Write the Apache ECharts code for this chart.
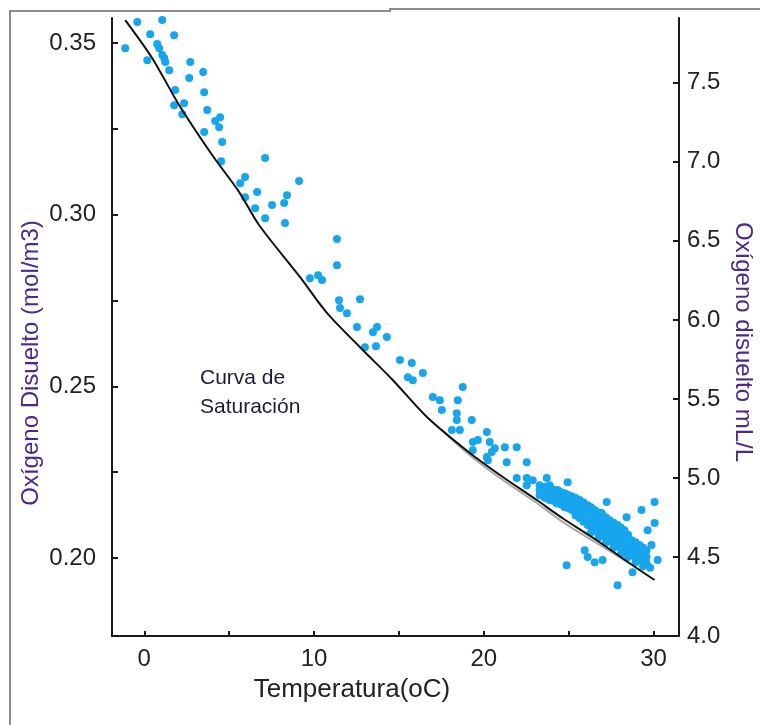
<!DOCTYPE html>
<html>
<head>
<meta charset="utf-8">
<script src="https://cdn.jsdelivr.net/npm/echarts@6/dist/echarts.min.js"></script>
<style>
html,body{margin:0;padding:0;background:#fff;}
#chart{width:760px;height:725px;}
</style>
</head>
<body>
<div id="chart"></div>
<script>
// ---- data (Temperature °C, dissolved oxygen mol/m3) ----
const satCurve = [[-1.12,0.3567],[0.47,0.3456],[2.06,0.3319],[4.0,0.3174],[5.59,0.3066],[6.76,0.2970],[9.18,0.2818],[10.76,0.2714],[12.71,0.2614],[14.65,0.2518],[16.65,0.2411],[19.18,0.2306],[21.12,0.2236],[23.12,0.2169],[24.65,0.2116],[26.65,0.2052],[28.59,0.1985],[30.06,0.1936]];
const satCurveAlt = [[17.5,0.2374],[19.2,0.2299],[21.1,0.2228],[23.1,0.2161],[24.6,0.2107],[26.0,0.2063],[27.5,0.2018],[28.6,0.1984]];
const obsCold = [[-0.41,0.3561],[1.06,0.3567],[-1.12,0.3485],[0.35,0.3526],[1.76,0.3523],[0.76,0.3497],[0.88,0.3485],[0.18,0.3450],[1.18,0.3456],[1.24,0.3445],[1.06,0.3465],[1.47,0.3421],[2.71,0.3445],[2.65,0.3398],[3.47,0.3416],[1.82,0.3363],[3.53,0.3357],[1.76,0.3319],[2.35,0.3325],[2.24,0.3293],[3.71,0.3305],[4.47,0.3284],[4.18,0.3273],[4.41,0.3255],[3.53,0.3241],[4.59,0.3212],[4.53,0.3156],[7.12,0.3165],[5.94,0.3110],[5.65,0.3092],[9.12,0.3098],[6.65,0.3066],[5.94,0.3051],[8.41,0.3057],[6.53,0.3019],[7.53,0.3028],[8.24,0.3034],[7.12,0.2990],[8.29,0.2976]];
const obsMid = [[11.35,0.2929],[11.35,0.2853],[9.76,0.2815],[10.24,0.2824],[10.47,0.2810],[11.47,0.2751],[12.71,0.2754],[11.53,0.2728],[11.94,0.2713],[12.53,0.2673],[13.71,0.2673],[13.47,0.2658],[14.29,0.2644],[13.0,0.2614],[13.65,0.2617],[15.06,0.2577],[15.76,0.2568],[15.53,0.2527],[15.82,0.2518],[16.41,0.2539],[17.0,0.2469],[17.41,0.2460],[18.47,0.2460],[18.76,0.2498],[18.41,0.2422],[17.53,0.2431],[18.41,0.2402],[19.29,0.2402],[18.12,0.2373],[18.59,0.2373],[20.18,0.2367],[19.35,0.2338],[19.65,0.2344],[20.35,0.2338],[20.65,0.2320],[21.24,0.2323],[21.94,0.2323],[19.35,0.2314],[20.18,0.2294],[20.47,0.2309],[20.24,0.2285],[21.35,0.2279],[22.53,0.2279],[21.94,0.2233],[22.53,0.2233],[22.53,0.2212],[22.88,0.2227],[23.71,0.2233],[23.59,0.2207],[24.06,0.2189],[23.71,0.2175],[24.29,0.2160]];
const obsWarmScatter = [[24.94,0.2221],[27.24,0.2163],[30.06,0.2163],[29.29,0.2140],[28.41,0.2119],[30.06,0.2102],[26.94,0.2131],[29.65,0.2081],[29.88,0.2038],[30.24,0.1994],[25.94,0.2023],[26.12,0.2003],[26.53,0.1988],[27.0,0.1994],[24.88,0.1979],[28.76,0.1959],[27.88,0.1921],[29.0,0.2014]];
const obsWarmDense = [[23.29,0.2212],[23.29,0.2198],[23.29,0.2183],[23.88,0.2212],[23.88,0.2192],[23.88,0.2169],[24.35,0.2198],[24.35,0.2177],[24.35,0.2160],[24.76,0.2189],[24.76,0.2169],[24.76,0.2148],[25.18,0.2180],[25.18,0.2160],[25.18,0.2140],[25.65,0.2169],[25.65,0.2148],[25.65,0.2131],[25.65,0.2116],[26.12,0.2154],[26.12,0.2134],[26.12,0.2110],[26.12,0.2096],[26.53,0.2140],[26.53,0.2119],[26.53,0.2099],[26.53,0.2081],[27.0,0.2125],[27.0,0.2105],[27.0,0.2081],[27.0,0.2067],[27.41,0.2110],[27.41,0.2087],[27.41,0.2067],[27.41,0.2049],[27.88,0.2096],[27.88,0.2076],[27.88,0.2052],[27.88,0.2035],[28.29,0.2081],[28.29,0.2058],[28.29,0.2038],[28.29,0.2020],[28.71,0.2052],[28.71,0.2032],[28.71,0.2009],[29.18,0.2038],[29.18,0.2017],[29.18,0.1994],[29.59,0.2023],[29.59,0.2003],[29.59,0.1985]];
const obsWarmDense2 = [[23.59,0.2205],[23.59,0.2190],[23.59,0.2176],[24.06,0.2200],[24.06,0.2184],[24.06,0.2168],[24.56,0.2192],[24.56,0.2174],[24.56,0.2156],[24.97,0.2184],[24.97,0.2164],[24.97,0.2146],[25.41,0.2175],[25.41,0.2155],[25.41,0.2136],[25.41,0.2124],[25.88,0.2162],[25.88,0.2142],[25.88,0.2122],[25.88,0.2106],[26.32,0.2148],[26.32,0.2128],[26.32,0.2106],[26.32,0.2090],[26.76,0.2133],[26.76,0.2112],[26.76,0.2090],[26.76,0.2074],[27.2,0.2118],[27.2,0.2096],[27.2,0.2075],[27.2,0.2058],[27.65,0.2103],[27.65,0.2082],[27.65,0.2060],[27.65,0.2043],[28.08,0.2088],[28.08,0.2066],[28.08,0.2045],[28.08,0.2028],[28.5,0.2068],[28.5,0.2046],[28.5,0.2025],[28.94,0.2046],[28.94,0.2025],[28.94,0.2003],[29.38,0.2030],[29.38,0.2010],[29.38,0.1990]];
const obsWarmLow = [[27.2,0.2045],[27.65,0.2030],[28.08,0.2012],[28.5,0.2003],[28.94,0.1988],[29.38,0.1976],[29.8,0.1972],[26.76,0.2060],[26.32,0.2075]];

// ---- axes ----
const xTicks = [0,5,10,15,20,25,30];
const xLabels = [0,10,20,30];
const leftTicks = [0.20,0.225,0.25,0.275,0.30,0.325,0.35];
const leftLabels = [0.20,0.25,0.30,0.35];
const rightTicks = [4.0,4.5,5.0,5.5,6.0,6.5,7.0,7.5];

const FONT = '"Liberation Sans", Arial, sans-serif';
const chart = echarts.init(document.getElementById('chart'), null, {renderer:'canvas'});
const obsAll = obsCold.concat(obsMid, obsWarmScatter, obsWarmDense, obsWarmDense2, obsWarmLow);

chart.setOption({
  animation:false,
  backgroundColor:'#ffffff',
  grid:{left:112, top:18, right:81, bottom:89, containLabel:false},
  xAxis:{
    type:'value', min:-1.9, max:31.5,
    splitLine:{show:false},
    axisLine:{show:true, onZero:false, lineStyle:{color:'#1a1a1a', width:2}},
    axisTick:{show:true, inside:true, length:5, customValues:xTicks, lineStyle:{color:'#1a1a1a', width:2}},
    axisLabel:{customValues:xLabels, margin:11, color:'#222', fontSize:24, fontFamily:FONT, formatter:v=>String(v)}
  },
  yAxis:[{
    type:'value', min:0.1773, max:0.3573, position:'left',
    splitLine:{show:false},
    axisLine:{show:true, onZero:false, lineStyle:{color:'#1a1a1a', width:2}},
    axisTick:{show:true, inside:true, length:6, customValues:leftTicks, lineStyle:{color:'#1a1a1a', width:2}},
    axisLabel:{customValues:leftLabels, margin:16, color:'#222', fontSize:24, fontFamily:FONT, formatter:v=>v.toFixed(2)}
  },{
    type:'value', min:4.0, max:7.91, position:'right',
    splitLine:{show:false},
    axisLine:{show:true, onZero:false, lineStyle:{color:'#1a1a1a', width:2}},
    axisTick:{show:true, inside:true, length:6, customValues:rightTicks, lineStyle:{color:'#1a1a1a', width:2}},
    axisLabel:{customValues:rightTicks, margin:8, color:'#222', fontSize:24, fontFamily:FONT, formatter:v=>v.toFixed(1)}
  }],
  series:[
    {type:'scatter', yAxisIndex:0, data:obsAll, symbolSize:8, itemStyle:{color:'#17a6ee', opacity:1}, z:2},
    {type:'line', yAxisIndex:0, data:satCurveAlt, smooth:0.3, symbol:'none', lineStyle:{color:'#a8a8a8', width:2}, z:3},
    {type:'line', yAxisIndex:0, data:satCurve, smooth:0.3, symbol:'none', lineStyle:{color:'#111', width:2}, z:4}
  ],
  graphic:[
    {type:'polyline', shape:{points:[[10,725],[10,11],[390,11],[390,9],[760,9]]}, style:{stroke:'#8c8c8c', lineWidth:2, fill:null}},
    {type:'text', x:31, y:363, rotation:Math.PI/2, style:{text:'Oxígeno Disuelto (mol/m3)', font:'24px '+FONT, fill:'#4b2a8a', align:'center', verticalAlign:'middle'}},
    {type:'text', x:743, y:342, rotation:-Math.PI/2, style:{text:'Oxígeno disuelto mL/L', font:'24px '+FONT, fill:'#4b2a8a', align:'center', verticalAlign:'middle'}},
    {type:'text', x:352, y:690, style:{text:'Temperatura(oC)', font:'26px '+FONT, fill:'#222', align:'center', verticalAlign:'middle'}},
    {type:'text', x:200, y:378, style:{text:'Curva de', font:'21px '+FONT, fill:'#1c1c3a', align:'left', verticalAlign:'middle'}},
    {type:'text', x:200, y:407, style:{text:'Saturación', font:'21px '+FONT, fill:'#1c1c3a', align:'left', verticalAlign:'middle'}}
  ]
});
</script>
</body>
</html>
